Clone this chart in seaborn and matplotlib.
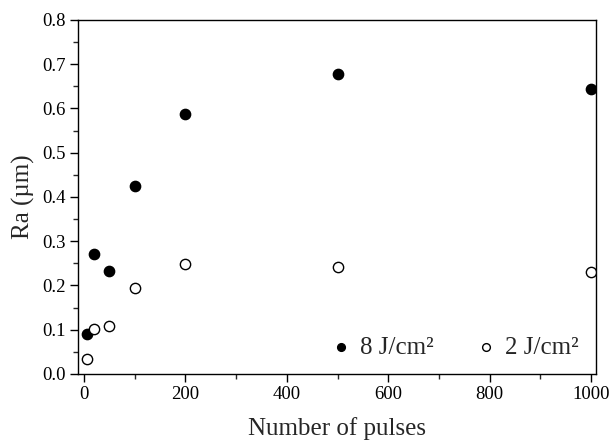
import numpy as np
import pandas as pd
import seaborn as sns
import matplotlib.pyplot as plt
from matplotlib.ticker import MultipleLocator

pulses = [5, 20, 50, 100, 200, 500, 1000]
ra_8 = [0.090, 0.272, 0.233, 0.425, 0.587, 0.678, 0.643]
ra_2 = [0.033, 0.101, 0.109, 0.193, 0.249, 0.242, 0.230]
labels = ["8 J/cm²", "2 J/cm²"]

df = pd.DataFrame({
    "pulses": pulses * 2,
    "ra": ra_8 + ra_2,
    "fluence": [labels[0]] * len(pulses) + [labels[1]] * len(pulses),
})

sns.set_style("ticks")
plt.rcParams["font.family"] = ["Liberation Serif", "DejaVu Serif"]

fig = plt.figure(figsize=(6.09, 4.43), dpi=100)
ax = fig.add_axes([0.128, 0.156, 0.851, 0.799])

for lab, fc in zip(labels, ["black", "white"]):
    sub = df[df["fluence"] == lab]
    sns.scatterplot(data=sub, x="pulses", y="ra", ax=ax, s=55,
                    facecolor=fc, edgecolor="black", linewidth=1.0, label=lab)

ax.set_xlim(-12, 1010)
ax.set_ylim(0, 0.8)
ax.xaxis.set_major_locator(MultipleLocator(200))
ax.xaxis.set_minor_locator(MultipleLocator(100))
ax.yaxis.set_major_locator(MultipleLocator(0.1))
ax.yaxis.set_minor_locator(MultipleLocator(0.05))
ax.yaxis.set_major_formatter(plt.FuncFormatter(lambda v, p: f"{v:.1f}"))
ax.tick_params(which="major", direction="out", length=6, width=1, labelsize=13.5,
               colors="black", pad=3)
ax.tick_params(which="minor", direction="out", length=3.5, width=1)
for sp in ax.spines.values():
    sp.set_color("black")
    sp.set_linewidth(1)

ax.set_xlabel("Number of pulses", fontsize=18, labelpad=10)
ax.set_ylabel("Ra (µm)", fontsize=18, labelpad=5)

ax.legend(loc="lower right", bbox_to_anchor=(0.986, 0.015), ncol=2, frameon=False,
          fontsize=18, handlelength=0.8, handletextpad=0.35, columnspacing=1.7,
          markerscale=0.75, borderaxespad=0)

fig.savefig("out.png", dpi=100)
